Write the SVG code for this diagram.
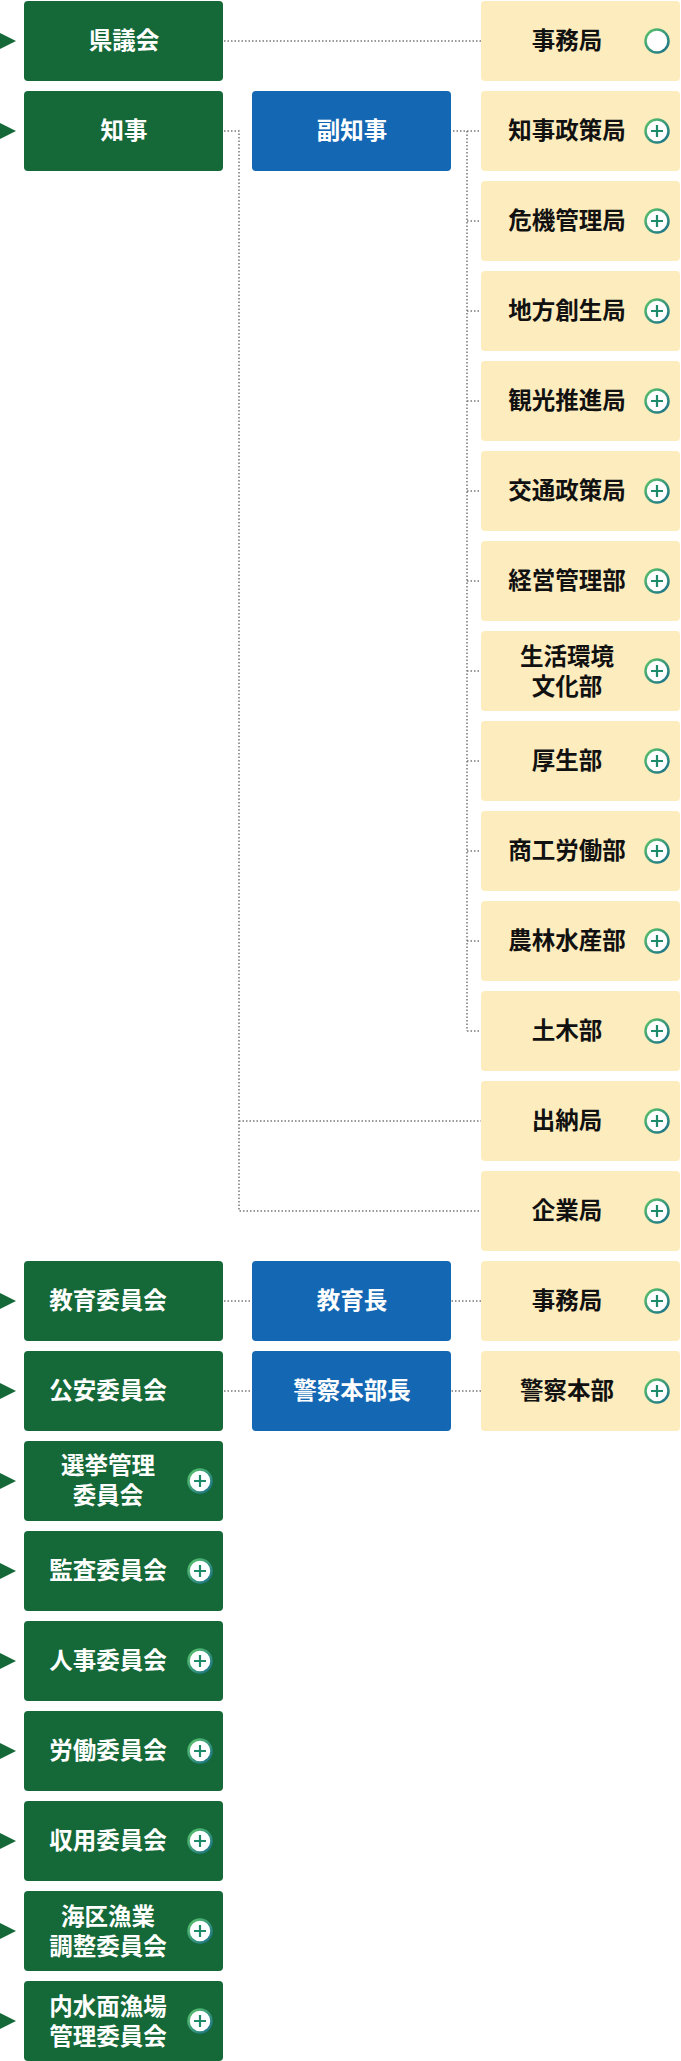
<svg xmlns="http://www.w3.org/2000/svg" width="681" height="2061" viewBox="0 0 681 2061">
<defs>
<linearGradient id="ring" x1="0" y1="0" x2="1" y2="1"><stop offset="0" stop-color="#5cc46a"/><stop offset="1" stop-color="#1a6f8a"/></linearGradient>
<g id="plus"><circle r="11.5" fill="#fff" stroke="url(#ring)" stroke-width="2.5"/><path d="M-6 0H6M0 -6V6" stroke="#1f8a6a" stroke-width="2.2"/></g>
<g id="ring0"><circle r="11.5" fill="#fff" stroke="url(#ring)" stroke-width="2.5"/></g>
<path id="tri" d="M0 -8L16 0L0 8Z" fill="#156838"/>
</defs>
<style>
.g{fill:#156838}.b{fill:#1367b3}.y{fill:#fdecbd}
text{font-family:"Noto Sans CJK JP","Noto Sans",sans-serif;font-weight:700;font-size:23.5px;text-anchor:middle}
.w{fill:#fff}.k{fill:#111}
.c{fill:none;stroke:#777;stroke-width:1.5;stroke-dasharray:1.5 2}
</style>
<g id="connectors">
<path class="c" d="M224 41H481M224 131H239V1211H481M239 1121H481M453 131H481M467 131V1031M467 221H481M467 311H481M467 401H481M467 491H481M467 581H481M467 671H481M467 761H481M467 851H481M467 941H481M467 1031H481M224 1301H481M224 1391H481"/>
</g>
<g id="left">
<g id="n0"><use href="#tri" x="0" y="41"/><rect class="g" x="24" y="1" width="199" height="80" rx="4"/><text class="w" x="124" y="49">県議会</text></g>
<g id="n1"><use href="#tri" x="0" y="131"/><rect class="g" x="24" y="91" width="199" height="80" rx="4"/><text class="w" x="124" y="139">知事</text></g>
<g id="n14"><use href="#tri" x="0" y="1301"/><rect class="g" x="24" y="1261" width="199" height="80" rx="4"/><text class="w" x="108" y="1309">教育委員会</text></g>
<g id="n15"><use href="#tri" x="0" y="1391"/><rect class="g" x="24" y="1351" width="199" height="80" rx="4"/><text class="w" x="108" y="1399">公安委員会</text></g>
<g id="n16"><use href="#tri" x="0" y="1481"/><rect class="g" x="24" y="1441" width="199" height="80" rx="4"/><text class="w" x="108" y="1474">選挙管理</text><text class="w" x="108" y="1504">委員会</text><use href="#plus" x="200" y="1481"/></g>
<g id="n17"><use href="#tri" x="0" y="1571"/><rect class="g" x="24" y="1531" width="199" height="80" rx="4"/><text class="w" x="108" y="1579">監査委員会</text><use href="#plus" x="200" y="1571"/></g>
<g id="n18"><use href="#tri" x="0" y="1661"/><rect class="g" x="24" y="1621" width="199" height="80" rx="4"/><text class="w" x="108" y="1669">人事委員会</text><use href="#plus" x="200" y="1661"/></g>
<g id="n19"><use href="#tri" x="0" y="1751"/><rect class="g" x="24" y="1711" width="199" height="80" rx="4"/><text class="w" x="108" y="1759">労働委員会</text><use href="#plus" x="200" y="1751"/></g>
<g id="n20"><use href="#tri" x="0" y="1841"/><rect class="g" x="24" y="1801" width="199" height="80" rx="4"/><text class="w" x="108" y="1849">収用委員会</text><use href="#plus" x="200" y="1841"/></g>
<g id="n21"><use href="#tri" x="0" y="1931"/><rect class="g" x="24" y="1891" width="199" height="80" rx="4"/><text class="w" x="108" y="1925">海区漁業</text><text class="w" x="108" y="1955">調整委員会</text><use href="#plus" x="200" y="1931"/></g>
<g id="n22"><use href="#tri" x="0" y="2021"/><rect class="g" x="24" y="1981" width="199" height="80" rx="4"/><text class="w" x="108" y="2015">内水面漁場</text><text class="w" x="108" y="2045">管理委員会</text><use href="#plus" x="200" y="2021"/></g>
</g>
<g id="mid">
<g id="m1"><rect class="b" x="252" y="91" width="199" height="80" rx="4"/><text class="w" x="352" y="139">副知事</text></g>
<g id="m14"><rect class="b" x="252" y="1261" width="199" height="80" rx="4"/><text class="w" x="352" y="1309">教育長</text></g>
<g id="m15"><rect class="b" x="252" y="1351" width="199" height="80" rx="4"/><text class="w" x="352" y="1399">警察本部長</text></g>
</g>
<g id="right">
<g id="r0"><rect class="y" x="481" y="1" width="199" height="80" rx="4"/><text class="k" x="567" y="49">事務局</text><use href="#ring0" x="657" y="41"/></g>
<g id="r1"><rect class="y" x="481" y="91" width="199" height="80" rx="4"/><text class="k" x="567" y="139">知事政策局</text><use href="#plus" x="657" y="131"/></g>
<g id="r2"><rect class="y" x="481" y="181" width="199" height="80" rx="4"/><text class="k" x="567" y="229">危機管理局</text><use href="#plus" x="657" y="221"/></g>
<g id="r3"><rect class="y" x="481" y="271" width="199" height="80" rx="4"/><text class="k" x="567" y="319">地方創生局</text><use href="#plus" x="657" y="311"/></g>
<g id="r4"><rect class="y" x="481" y="361" width="199" height="80" rx="4"/><text class="k" x="567" y="409">観光推進局</text><use href="#plus" x="657" y="401"/></g>
<g id="r5"><rect class="y" x="481" y="451" width="199" height="80" rx="4"/><text class="k" x="567" y="499">交通政策局</text><use href="#plus" x="657" y="491"/></g>
<g id="r6"><rect class="y" x="481" y="541" width="199" height="80" rx="4"/><text class="k" x="567" y="589">経営管理部</text><use href="#plus" x="657" y="581"/></g>
<g id="r7"><rect class="y" x="481" y="631" width="199" height="80" rx="4"/><text class="k" x="567" y="665">生活環境</text><text class="k" x="567" y="695">文化部</text><use href="#plus" x="657" y="671"/></g>
<g id="r8"><rect class="y" x="481" y="721" width="199" height="80" rx="4"/><text class="k" x="567" y="769">厚生部</text><use href="#plus" x="657" y="761"/></g>
<g id="r9"><rect class="y" x="481" y="811" width="199" height="80" rx="4"/><text class="k" x="567" y="859">商工労働部</text><use href="#plus" x="657" y="851"/></g>
<g id="r10"><rect class="y" x="481" y="901" width="199" height="80" rx="4"/><text class="k" x="567" y="949">農林水産部</text><use href="#plus" x="657" y="941"/></g>
<g id="r11"><rect class="y" x="481" y="991" width="199" height="80" rx="4"/><text class="k" x="567" y="1039">土木部</text><use href="#plus" x="657" y="1031"/></g>
<g id="r12"><rect class="y" x="481" y="1081" width="199" height="80" rx="4"/><text class="k" x="567" y="1129">出納局</text><use href="#plus" x="657" y="1121"/></g>
<g id="r13"><rect class="y" x="481" y="1171" width="199" height="80" rx="4"/><text class="k" x="567" y="1219">企業局</text><use href="#plus" x="657" y="1211"/></g>
<g id="r14"><rect class="y" x="481" y="1261" width="199" height="80" rx="4"/><text class="k" x="567" y="1309">事務局</text><use href="#plus" x="657" y="1301"/></g>
<g id="r15"><rect class="y" x="481" y="1351" width="199" height="80" rx="4"/><text class="k" x="567" y="1399">警察本部</text><use href="#plus" x="657" y="1391"/></g>
</g>
</svg>
